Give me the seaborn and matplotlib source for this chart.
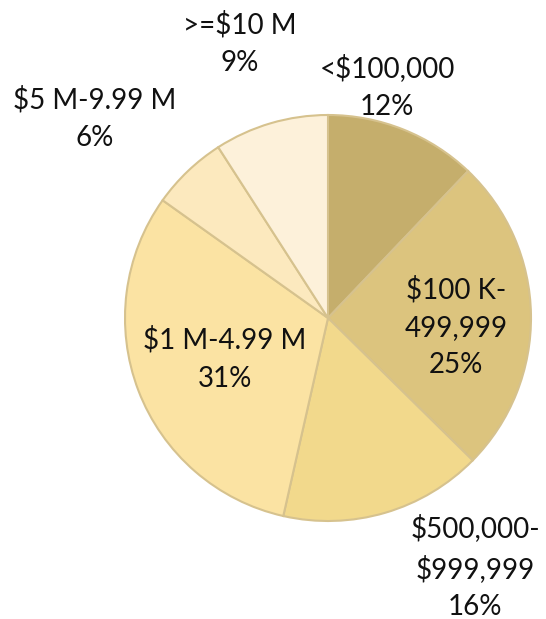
import matplotlib
matplotlib.use("Agg")
import matplotlib.pyplot as plt
import seaborn as sns

sns.set_theme(style="white")
plt.rcParams['font.family'] = ['Lato', 'DejaVu Sans']

categories = ["<$100,000", "$100 K-\n499,999", "$500,000-\n$999,999",
              "$1 M-4.99 M", "$5 M-9.99 M", ">=$10 M"]
values = [12, 25, 16, 31, 6, 9]
colors = ["#C5AE6C", "#DCC47E", "#F2D98C", "#FBE3A3", "#FCE9BE", "#FDF1DA"]
# label placements (data units, pie radius = 1)
label_pos = [(0.291, 1.138), (0.631, -0.044), (0.724, -1.227),
             (-0.507, -0.202), (-1.148, 0.985), (-0.433, 1.35)]

W, H = 546, 619
fig = plt.figure(figsize=(W / 100, H / 100), dpi=100)
cx, cy, r = 328, 318, 203
ax = fig.add_axes([(cx - r) / W, (H - cy - r) / H, 2 * r / W, 2 * r / H])
wedges, _ = ax.pie(values, colors=colors, startangle=90, counterclock=False,
                   wedgeprops=dict(edgecolor="#D6C28E", linewidth=1.5))
ax.set_xlim(-1, 1)
ax.set_ylim(-1, 1)
ax.set_aspect("equal")
ax.axis("off")

for cat, v, (x, y) in zip(categories, values, label_pos):
    ax.text(x, y, f"{cat}\n{v}%", ha="center", va="center", fontsize=20,
            color="#111111", linespacing=1.55, clip_on=False)

fig.savefig("out.png", dpi=100)
